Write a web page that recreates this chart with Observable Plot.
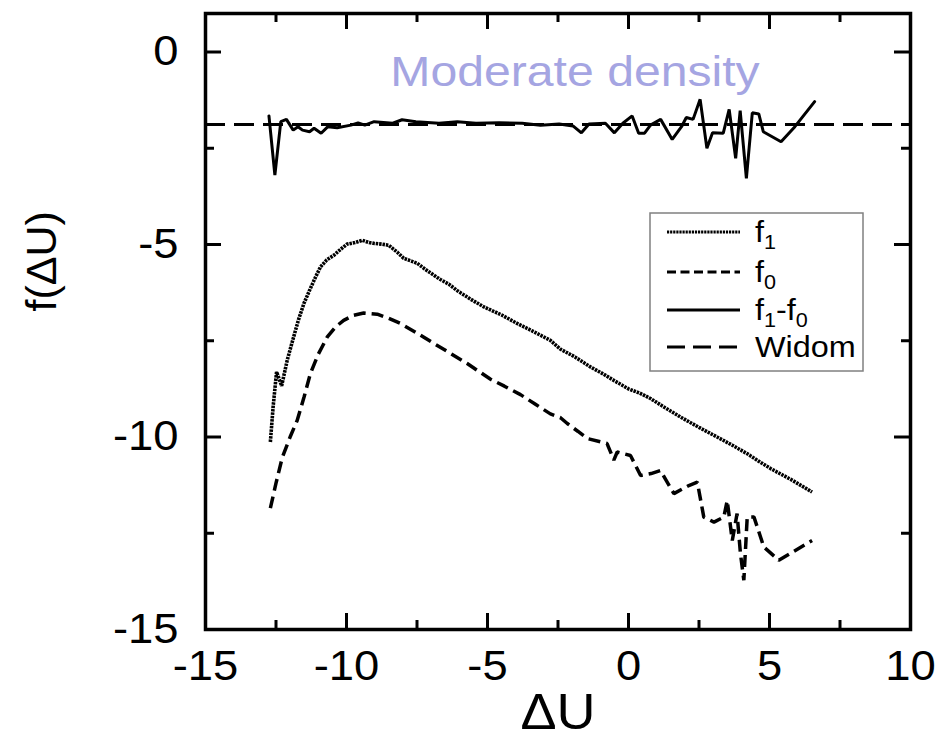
<!DOCTYPE html>
<html><head><meta charset="utf-8">
<script src="https://cdn.jsdelivr.net/npm/d3@7"></script>
<script src="https://cdn.jsdelivr.net/npm/@observablehq/plot@0.6"></script>
<style>
body{margin:0;background:#fff;}
#wrap{position:relative;width:937px;height:746px;font-family:"Liberation Sans",Arial,sans-serif;}
#legend{position:absolute;left:649px;top:212px;}
</style></head><body><div id="wrap"></div>
<script>
// ---- data ----
const f1_x = [-12.7,-12.6,-12.48,-12.3,-12.1,-11.89,-11.7,-11.51,-11.28,-11.1,-10.92,-10.7,-10.45,-10.2,-9.98,-9.7,-9.44,-9.2,-9.03,-8.75,-8.5,-8.2,-7.97,-7.7,-7.49,-7.1,-6.67,-6.37,-6.07,-5.6,-5.13,-4.5,-3.95,-3.4,-2.77,-2.41,-1.9,-1.35,-0.9,-0.52,0.0,0.4,0.78,1.3,1.84,2.5,3.14,3.7,4.2,4.6,5.04,5.8,6.51];
const f1_y = [-10.13,-9.2,-8.31,-8.67,-8.0,-7.44,-6.95,-6.53,-6.14,-5.85,-5.58,-5.40,-5.28,-5.12,-4.99,-4.95,-4.89,-4.95,-4.97,-4.99,-5.02,-5.2,-5.36,-5.43,-5.49,-5.7,-5.91,-6.03,-6.2,-6.42,-6.62,-6.83,-7.05,-7.25,-7.49,-7.72,-7.92,-8.18,-8.36,-8.53,-8.75,-8.86,-9.0,-9.24,-9.48,-9.75,-10.0,-10.22,-10.43,-10.62,-10.82,-11.12,-11.43];

const f0_x = [-12.7,-12.5,-12.28,-12.0,-11.75,-11.5,-11.28,-11.0,-10.68,-10.4,-10.1,-9.75,-9.39,-8.91,-8.5,-8.09,-7.5,-6.9,-6.31,-5.72,-5.3,-4.89,-4.4,-3.83,-3.3,-2.77,-2.41,-2.17,-1.8,-1.46,-0.76,-0.52,-0.40,0.07,0.43,0.8,1.13,1.61,2.14,2.44,2.67,3.03,3.38,3.5,3.68,3.85,3.97,4.09,4.21,4.45,4.8,5.33,6.51];
const f0_y = [-11.85,-11.2,-10.54,-10.0,-9.57,-8.95,-8.35,-7.85,-7.4,-7.15,-6.97,-6.84,-6.78,-6.81,-6.92,-7.05,-7.3,-7.57,-7.83,-8.09,-8.3,-8.5,-8.68,-8.9,-9.15,-9.4,-9.5,-9.65,-9.85,-10.04,-10.17,-10.6,-10.39,-10.48,-11.0,-10.95,-10.87,-11.47,-11.26,-11.17,-12.08,-12.21,-12.08,-11.65,-12.69,-11.99,-13.03,-13.72,-12.08,-12.08,-12.86,-13.2,-12.69];

const diff_x = [-12.75,-12.54,-12.33,-12.13,-11.89,-11.72,-11.56,-11.31,-11.15,-10.9,-10.66,-10.33,-9.84,-9.59,-9.35,-9.02,-8.36,-8.03,-7.54,-6.72,-6.07,-5.41,-4.59,-3.77,-3.12,-2.46,-1.97,-1.67,-1.40,-0.82,-0.5,-0.2,0.13,0.36,0.57,0.78,1.14,1.55,1.88,2.05,2.29,2.54,2.78,2.98,3.36,3.57,3.80,3.96,4.18,4.39,4.62,4.78,5.41,5.9,6.60];
const diff_y = [-1.66,-3.2,-1.81,-1.75,-2.03,-1.94,-2.03,-2.07,-1.98,-2.11,-1.94,-1.97,-1.90,-1.84,-1.9,-1.81,-1.85,-1.76,-1.81,-1.85,-1.81,-1.85,-1.84,-1.85,-1.9,-1.87,-1.92,-2.1,-1.87,-1.85,-2.1,-1.85,-1.66,-2.11,-2.11,-1.9,-1.75,-2.27,-1.94,-1.70,-1.75,-1.23,-2.5,-2.1,-2.11,-1.49,-2.76,-1.52,-3.28,-1.58,-1.61,-2.07,-2.33,-1.94,-1.29];

const widom = -1.88;

const xMajor = [-15,-10,-5,0,5,10];
const xMinor = [-12.5,-7.5,-2.5,2.5,7.5];
const yMajor = [0,-5,-10,-15];
const yMinor = [-2.5,-7.5,-12.5];

const titleText = "Moderate density";
const xLabel = "ΔU";
const yLabel = "f(ΔU)";

// ---- build ----
const W = 937, H = 746, ML = 205, MR = 27, MT = 13, MB = 117;
const FW = W - ML - MR, FH = H - MT - MB;
const pts = (xs, ys) => xs.map((x, i) => ({x, y: ys[i]}));
const f1 = pts(f1_x, f1_y), f0 = pts(f0_x, f0_y), diff = pts(diff_x, diff_y);
const fmt = d => String(d);

const chart = Plot.plot({
  width: W, height: H,
  marginLeft: ML, marginRight: MR, marginTop: MT, marginBottom: MB,
  style: {fontFamily: "'Liberation Sans', Arial, sans-serif", background: "white", color: "black", overflow: "visible"},
  x: {domain: [-15, 10]},
  y: {domain: [-15, 1]},
  marks: [
    Plot.ruleY([widom], {stroke: "black", strokeWidth: 3, strokeDasharray: "20,9", strokeLinecap: "butt"}),
    Plot.line(f0, {x: "x", y: "y", stroke: "black", strokeWidth: 3.5, strokeDasharray: "12,6", strokeLinecap: "butt", strokeLinejoin: "miter"}),
    Plot.line(f1, {x: "x", y: "y", stroke: "black", strokeWidth: 3.6, strokeDasharray: "2.5,0.9", strokeLinecap: "butt", strokeLinejoin: "miter"}),
    Plot.line(diff, {x: "x", y: "y", stroke: "black", strokeWidth: 3, strokeLinejoin: "miter"}),
    // inward ticks
    Plot.tickX(xMajor, {x: d => d, insetTop: FH - 16, strokeWidth: 3}),
    Plot.tickX(xMinor, {x: d => d, insetTop: FH - 9, strokeWidth: 3}),
    Plot.tickX(xMajor, {x: d => d, insetBottom: FH - 16, strokeWidth: 3}),
    Plot.tickX(xMinor, {x: d => d, insetBottom: FH - 9, strokeWidth: 3}),
    Plot.tickY(yMajor, {y: d => d, insetRight: FW - 16, strokeWidth: 3}),
    Plot.tickY(yMinor, {y: d => d, insetRight: FW - 9, strokeWidth: 3}),
    Plot.tickY(yMajor, {y: d => d, insetLeft: FW - 16, strokeWidth: 3}),
    Plot.tickY(yMinor, {y: d => d, insetLeft: FW - 9, strokeWidth: 3}),
    Plot.frame({stroke: "black", strokeWidth: 3.5}),
    Plot.axisX(xMajor, {tickSize: 0, tickPadding: 21, fontSize: 42, label: null, tickFormat: fmt}),
    Plot.axisY(yMajor, {tickSize: 0, tickPadding: 27, fontSize: 42, label: null, tickFormat: fmt}),
    Plot.text([xLabel], {frameAnchor: "bottom", dy: 99, fontSize: 50}),
    Plot.text([yLabel], {frameAnchor: "left", dx: -163, dy: -10, rotate: -90, fontSize: 43}),
    Plot.text([titleText], {frameAnchor: "top", dx: 17, dy: 42, fontSize: 43, fill: "#a5a5e2"})
  ]
});
const wrap = document.getElementById("wrap");
wrap.appendChild(chart);

// ---- legend overlay ----
const legendItems = [
  {parts: [["f",0],["1",1]], dash: "2.2,0.9"},
  {parts: [["f",0],["0",1]], dash: "9,4.5"},
  {parts: [["f",0],["1",1],["-f",0],["0",1]], dash: null},
  {parts: [["Widom",0]], dash: "18,8"}
];
const rowsY = [20, 60, 98, 135];
const lg = d3.select(wrap).append("svg").attr("id", "legend").attr("width", 216).attr("height", 161)
  .style("font-family", "'Liberation Sans', Arial, sans-serif");
lg.append("rect").attr("x", 1).attr("y", 1).attr("width", 213).attr("height", 158)
  .attr("fill", "white").attr("stroke", "#808080").attr("stroke-width", 1.5);
legendItems.forEach((it, i) => {
  const y = rowsY[i];
  lg.append("line").attr("x1", 18).attr("x2", 91).attr("y1", y).attr("y2", y)
    .attr("stroke", "black").attr("stroke-width", 3).attr("stroke-dasharray", it.dash);
  const t = lg.append("text").attr("x", 106).attr("y", y + 10).attr("font-size", 30).attr("fill", "black");
  let sub = false;
  it.parts.forEach(([s, isSub]) => {
    const ts = t.append("tspan").text(s);
    if (isSub && !sub) { ts.attr("dy", 7).attr("font-size", 20); sub = true; }
    else if (isSub) { ts.attr("font-size", 20); }
    else if (!isSub && sub) { ts.attr("dy", -7); sub = false; }
  });
});

// slight horizontal widening of text to match reference lettering
wrap.querySelectorAll("svg text").forEach(t => {
  const s = t.textContent === titleText ? 1.12 : (t.textContent === yLabel ? 1.0 : 1.08);
  const L = t.getComputedTextLength();
  if (L > 0 && s !== 1) { t.setAttribute("textLength", (L * s).toFixed(1)); t.setAttribute("lengthAdjust", "spacingAndGlyphs"); }
});
</script></body></html>
